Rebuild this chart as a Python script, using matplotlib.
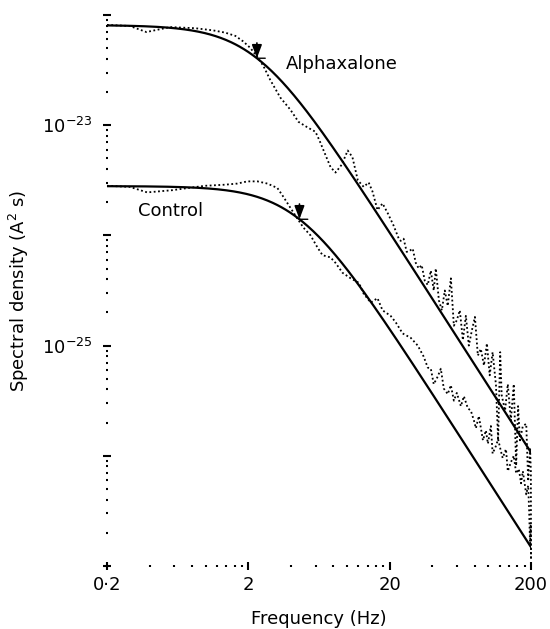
import matplotlib
matplotlib.use('Agg')
import matplotlib.pyplot as plt
import matplotlib.ticker as ticker
import numpy as np

plt.rcParams['font.family'] = 'DejaVu Sans'
plt.rcParams['mathtext.fontset'] = 'dejavusans'

# ---- data (frequency in Hz, log10 of spectral density in A^2 s) ----
alpha_freq = [0.2, 0.29, 0.38, 0.56, 0.84, 1.13, 1.37, 1.62, 1.84, 2.07, 2.28, 2.55,
              2.86, 3.37, 3.97, 4.53, 5.24, 5.97, 6.38, 6.92, 7.63, 8.28, 9.14, 10.1,
              10.9, 11.9, 13.1, 14.2, 15.1, 16.4, 17.8, 19.4, 21.3, 23.2,
              23.9, 25.1, 26.4, 27.7, 29.1, 30.6, 32.1, 33.7, 35.4, 37.2, 39.1, 41.0,
              42.4, 44.6, 46.8, 49.1, 51.5, 54.2, 56.9, 59.7, 62.7, 65.9, 69.2, 72.6,
              76.4, 80.2, 84.1, 88.3, 92.9, 97.5, 102, 107, 113, 117, 121, 124,
              131, 137, 144, 151, 157, 162, 167, 175, 185, 191, 197, 199.5, 200]
alpha_log_density = [-22.09, -22.10, -22.155, -22.11, -22.12, -22.14, -22.16, -22.19,
                     -22.24, -22.30, -22.37, -22.46, -22.59, -22.75, -22.86, -22.97,
                     -23.02, -23.06, -23.14, -23.25, -23.38, -23.43, -23.36, -23.23,
                     -23.29, -23.50, -23.56, -23.52, -23.60, -23.77, -23.71, -23.80,
                     -23.91, -24.03,
                     -24.05, -24.03, -24.15, -24.14, -24.12, -24.25, -24.30, -24.27,
                     -24.41, -24.45, -24.32, -24.50, -24.30, -24.59, -24.68, -24.50,
                     -24.64, -24.39, -24.82, -24.77, -24.68, -24.95, -24.73, -25.00,
                     -24.86, -24.74, -25.09, -25.03, -25.18, -24.98, -25.27, -25.06,
                     -25.36, -25.86, -25.06, -25.45, -25.59, -25.35, -25.68, -25.35,
                     -26.09, -25.55, -25.86, -25.73, -25.71, -26.23, -25.94, -26.14,
                     -26.95]

control_freq = [0.2, 0.29, 0.385, 0.58, 0.75, 0.99, 1.17, 1.37, 1.67, 1.97, 2.32, 2.73,
                3.21, 3.54, 3.97, 4.46, 4.91, 5.51, 6.17, 6.70, 7.63, 8.28, 9.29, 10.6,
                12.1, 13.1, 14.7, 16.4, 17.8, 20.3, 22.1, 24.7, 28.2, 31.6, 34.8, 37.2,
                39.1, 41.0, 43.8, 46.0, 48.3, 51.5, 54.2, 56.9, 59.7, 63.8, 67.0, 71.5,
                75.0, 78.9, 81.5, 85.5, 91.4, 95.9, 99.1, 104, 107, 113, 117, 122,
                126, 133, 137, 144, 151, 157, 164, 170, 175, 185, 191, 194,
                197, 199, 200]
control_log_density = [-23.55, -23.56, -23.61, -23.59, -23.57, -23.55, -23.545, -23.54,
                       -23.53, -23.51, -23.51, -23.53, -23.57, -23.65, -23.75, -23.85,
                       -23.93, -24.00, -24.11, -24.18, -24.20, -24.25, -24.34, -24.39,
                       -24.43, -24.53, -24.61, -24.57, -24.68, -24.73, -24.79, -24.89,
                       -24.93, -25.00, -25.10, -25.20, -25.21, -25.35, -25.28, -25.21,
                       -25.39, -25.44, -25.36, -25.50, -25.43, -25.55, -25.46, -25.57,
                       -25.59, -25.68, -25.75, -25.64, -25.86, -25.77, -25.89, -25.73,
                       -25.98, -25.91, -25.85, -25.95, -26.02, -25.94, -26.14, -26.06,
                       -26.00, -26.16, -26.12, -26.25, -26.14, -26.35, -26.27, -26.50,
                       -26.82, -26.62, -26.95]

# Lorentzian fits: plateau level (A^2 s) and corner frequency (Hz)
alpha_s0, alpha_fc = 8.1e-23, 2.3
control_s0, control_fc = 2.8e-24, 4.6

x_ticks = [0.2, 2, 20, 200]
x_tick_labels = ['0\u00b72', '2', '20', '200']
y_labelled = {-23: '$10^{-23}$', -25: '$10^{-25}$'}


def lorentz(f, s0, fc):
    return s0 / (1 + (f / fc) ** 2)


fig = plt.figure(figsize=(5.5, 6.29), dpi=100)
ax = fig.add_axes([0.1945, 0.1002, 0.771, 0.876])

dotted = dict(color='black', linestyle=(0, (1, 1.4)), linewidth=1.3, clip_on=False)
ax.plot(alpha_freq, 10 ** np.array(alpha_log_density), **dotted)
ax.plot(control_freq, 10 ** np.array(control_log_density), **dotted)

f_fit = np.logspace(np.log10(0.2), np.log10(200), 400)
for s0, fc in [(alpha_s0, alpha_fc), (control_s0, control_fc)]:
    ax.plot(f_fit, lorentz(f_fit, s0, fc), color='black', linewidth=1.6)
    ax.annotate('', xy=(fc, s0 / 2), xytext=(0, 11), textcoords='offset points',
                arrowprops=dict(arrowstyle='-|>,head_length=0.8,head_width=0.3',
                                color='black', lw=1.2, shrinkA=0, shrinkB=0))
    # little bar at the arrow tip
    ax.annotate('', xy=(fc, s0 / 2), xytext=(6, 0), textcoords='offset points',
                arrowprops=dict(arrowstyle='-', color='black', lw=1.0,
                                shrinkA=0, shrinkB=0))

ax.text(3.66, 3.6e-23, 'Alphaxalone', fontsize=13, ha='left', va='center')
ax.text(0.33, 1.66e-24, 'Control', fontsize=13, ha='left', va='center')

ax.set_xscale('log')
ax.set_yscale('log')
ax.set_xlim(0.2, 200)
ax.set_ylim(1e-27, 1e-22)
for s in ax.spines.values():
    s.set_visible(False)

ax.xaxis.set_major_locator(ticker.FixedLocator(x_ticks))
ax.xaxis.set_major_formatter(ticker.FixedFormatter(x_tick_labels))
ax.xaxis.set_minor_locator(ticker.FixedLocator(
    [0.2 * k * 10 ** n for n in range(3) for k in range(2, 10)]))
ax.xaxis.set_minor_formatter(ticker.NullFormatter())

ax.yaxis.set_major_locator(ticker.FixedLocator([10.0 ** e for e in range(-27, -21)]))
ax.yaxis.set_major_formatter(ticker.FuncFormatter(
    lambda v, pos: y_labelled.get(int(round(np.log10(v))), '')))
ax.yaxis.set_minor_locator(ticker.LogLocator(subs=np.arange(2, 10), numticks=20))
ax.yaxis.set_minor_formatter(ticker.NullFormatter())

ax.tick_params(which='major', direction='inout', length=6, width=1.5, labelsize=13)
ax.tick_params(which='minor', direction='inout', length=1.5, width=1.5)
ax.tick_params(axis='y', which='major', pad=7)
ax.tick_params(axis='x', which='major', pad=4)

ax.set_xlabel('Frequency (Hz)', fontsize=13, labelpad=12)
ax.set_ylabel('Spectral density (A$^{2}$ s)', fontsize=13)
ax.yaxis.set_label_coords(-0.18, 0.5)

fig.savefig('out.png', dpi=100)
